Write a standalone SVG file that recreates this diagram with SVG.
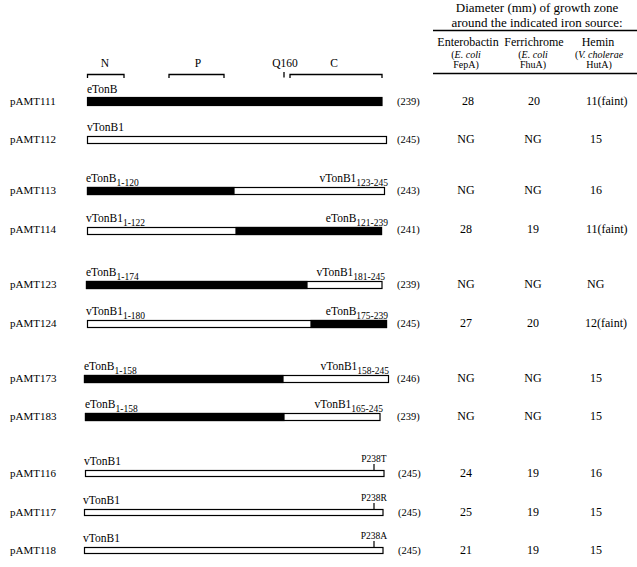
<svg xmlns="http://www.w3.org/2000/svg" width="637" height="567" viewBox="0 0 637 567" font-family="'Liberation Serif', 'DejaVu Serif', serif">
<style>
text{font-family:'Liberation Serif','DejaVu Serif',serif;fill:#000}
.rl{font-size:11px}
.bl{font-size:11.5px}
.sub{font-size:9.5px}
.ln{font-size:10.5px}
.v{font-size:12px}
.c{text-anchor:middle}
.e{text-anchor:end}
.hd{font-size:13px}
.ch{font-size:12px}
.cs{font-size:10px}
.blk{fill:#000;stroke:#000;stroke-width:1.2}
.wht{fill:#fff;stroke:#000;stroke-width:1.2}
.br{fill:none;stroke:#000;stroke-width:1.3}
</style>
<rect width="637" height="567" fill="#fff"/>
<g id="header">
<text class="hd c" x="537" y="12">Diameter (mm) of growth zone</text>
<text class="hd c" x="537" y="26.5">around the indicated iron source:</text>
<line x1="433" y1="30.5" x2="637" y2="30.5" stroke="#000" stroke-width="1.5"/>
<text class="ch c" x="468" y="46">Enterobactin</text>
<text class="ch c" x="534" y="46">Ferrichrome</text>
<text class="ch c" x="598" y="46">Hemin</text>
<text class="cs c" x="466" y="58">(<tspan font-style="italic">E. coli</tspan></text>
<text class="cs c" x="466" y="68">FepA)</text>
<text class="cs c" x="533" y="58">(<tspan font-style="italic">E. coli</tspan></text>
<text class="cs c" x="533" y="68">FhuA)</text>
<text class="cs c" x="599" y="58">(<tspan font-style="italic">V. cholerae</tspan></text>
<text class="cs c" x="599" y="68">HutA)</text>
<line x1="433" y1="73.5" x2="637" y2="73.5" stroke="#000" stroke-width="1.5"/>
</g>
<g id="domains">
<path class="br" d="M87.5,78 V74.5 H124 V78"/>
<path class="br" d="M169,78 V74.5 H224 V78"/>
<path class="br" d="M290,78 V74.5 H382 V78"/>
<line x1="284" y1="72" x2="284" y2="77.5" stroke="#000" stroke-width="1.3"/>
<text class="bl c" x="105" y="67">N</text>
<text class="bl c" x="198" y="67">P</text>
<text class="bl c" x="285" y="67">Q160</text>
<text class="bl c" x="334" y="67">C</text>
</g>
<g id="pAMT111">
<text class="rl" x="10" y="105">pAMT111</text>
<text class="bl" x="87" y="93">eTonB</text>
<rect class="blk" x="87.5" y="97.5" width="294.5" height="8"/>
<text class="ln" x="397" y="105">(239)</text>
<text class="v c" x="468" y="105">28</text>
<text class="v c" x="534" y="105">20</text>
<text class="v" x="586" y="105">11(faint)</text>
</g>
<g id="pAMT112">
<text class="rl" x="10" y="143">pAMT112</text>
<text class="bl" x="87" y="131">vTonB1</text>
<rect class="wht" x="87.5" y="136.5" width="299" height="7"/>
<text class="ln" x="397" y="143">(245)</text>
<text class="v c" x="466" y="143">NG</text>
<text class="v c" x="533" y="143">NG</text>
<text class="v" x="590" y="143">15</text>
</g>
<g id="pAMT113">
<text class="rl" x="10" y="194">pAMT113</text>
<text class="bl" x="86" y="182">eTonB<tspan class="sub" dy="4">1-120</tspan></text>
<text class="bl e" x="388" y="182">vTonB1<tspan class="sub" dy="4">123-245</tspan></text>
<rect class="wht" x="87.5" y="187.5" width="297" height="7"/>
<rect class="blk" x="87.5" y="187.5" width="146.5" height="7"/>
<text class="ln" x="397" y="194">(243)</text>
<text class="v c" x="466" y="194">NG</text>
<text class="v c" x="533" y="194">NG</text>
<text class="v" x="590" y="194">16</text>
</g>
<g id="pAMT114">
<text class="rl" x="10" y="233">pAMT114</text>
<text class="bl" x="86" y="222">vTonB1<tspan class="sub" dy="4">1-122</tspan></text>
<text class="bl e" x="388" y="222">eTonB<tspan class="sub" dy="4">121-239</tspan></text>
<rect class="wht" x="87.5" y="227.5" width="294" height="7"/>
<rect class="blk" x="236" y="227.5" width="145.5" height="7"/>
<text class="ln" x="397" y="233">(241)</text>
<text class="v c" x="466" y="233">28</text>
<text class="v c" x="533" y="233">19</text>
<text class="v" x="586" y="233">11(faint)</text>
</g>
<g id="pAMT123">
<text class="rl" x="10" y="288">pAMT123</text>
<text class="bl" x="86" y="276">eTonB<tspan class="sub" dy="4">1-174</tspan></text>
<text class="bl e" x="385" y="276">vTonB1<tspan class="sub" dy="4">181-245</tspan></text>
<rect class="wht" x="86.5" y="281.5" width="295.5" height="7"/>
<rect class="blk" x="86.5" y="281.5" width="220.5" height="7"/>
<text class="ln" x="397" y="288">(239)</text>
<text class="v c" x="466" y="288">NG</text>
<text class="v c" x="533" y="288">NG</text>
<text class="v" x="587" y="288">NG</text>
</g>
<g id="pAMT124">
<text class="rl" x="10" y="327">pAMT124</text>
<text class="bl" x="86" y="315">vTonB1<tspan class="sub" dy="4">1-180</tspan></text>
<text class="bl e" x="388" y="315">eTonB<tspan class="sub" dy="4">175-239</tspan></text>
<rect class="wht" x="87.5" y="320.5" width="299" height="7"/>
<rect class="blk" x="311" y="320.5" width="75.5" height="7"/>
<text class="ln" x="397" y="327">(245)</text>
<text class="v c" x="466" y="327">27</text>
<text class="v c" x="533" y="327">20</text>
<text class="v" x="585" y="327">12(faint)</text>
</g>
<g id="pAMT173">
<text class="rl" x="10" y="382">pAMT173</text>
<text class="bl" x="84" y="370">eTonB<tspan class="sub" dy="4">1-158</tspan></text>
<text class="bl e" x="389" y="370">vTonB1<tspan class="sub" dy="4">158-245</tspan></text>
<rect class="wht" x="84.5" y="375.5" width="304" height="7"/>
<rect class="blk" x="84.5" y="375.5" width="198.5" height="7"/>
<text class="ln" x="397" y="382">(246)</text>
<text class="v c" x="466" y="382">NG</text>
<text class="v c" x="533" y="382">NG</text>
<text class="v" x="590" y="382">15</text>
</g>
<g id="pAMT183">
<text class="rl" x="10" y="420">pAMT183</text>
<text class="bl" x="85" y="408">eTonB<tspan class="sub" dy="4">1-158</tspan></text>
<text class="bl e" x="383" y="408">vTonB1<tspan class="sub" dy="4">165-245</tspan></text>
<rect class="wht" x="85.5" y="413.5" width="294.5" height="7"/>
<rect class="blk" x="85.5" y="413.5" width="198.5" height="7"/>
<text class="ln" x="397" y="420">(239)</text>
<text class="v c" x="466" y="420">NG</text>
<text class="v c" x="533" y="420">NG</text>
<text class="v" x="590" y="420">15</text>
</g>
<g id="pAMT116">
<text class="rl" x="10" y="477">pAMT116</text>
<text class="bl" x="84" y="465">vTonB1</text>
<text class="sub c" x="374" y="462">P238T</text>
<line x1="374" y1="464" x2="374" y2="470.5" stroke="#000" stroke-width="1.2"/>
<rect class="wht" x="85.5" y="470.5" width="298.5" height="6"/>
<text class="ln" x="398" y="477">(245)</text>
<text class="v c" x="466" y="477">24</text>
<text class="v c" x="533" y="477">19</text>
<text class="v" x="590" y="477">16</text>
</g>
<g id="pAMT117">
<text class="rl" x="10" y="516">pAMT117</text>
<text class="bl" x="83" y="504">vTonB1</text>
<text class="sub c" x="374" y="501">P238R</text>
<line x1="374" y1="503" x2="374" y2="509.5" stroke="#000" stroke-width="1.2"/>
<rect class="wht" x="84.5" y="509.5" width="298.5" height="6"/>
<text class="ln" x="398" y="516">(245)</text>
<text class="v c" x="466" y="516">25</text>
<text class="v c" x="533" y="516">19</text>
<text class="v" x="590" y="516">15</text>
</g>
<g id="pAMT118">
<text class="rl" x="10" y="554">pAMT118</text>
<text class="bl" x="83" y="542">vTonB1</text>
<text class="sub c" x="374" y="539">P238A</text>
<line x1="374" y1="541" x2="374" y2="547.5" stroke="#000" stroke-width="1.2"/>
<rect class="wht" x="84.5" y="547.5" width="298.5" height="6"/>
<text class="ln" x="398" y="554">(245)</text>
<text class="v c" x="466" y="554">21</text>
<text class="v c" x="533" y="554">19</text>
<text class="v" x="590" y="554">15</text>
</g>
<g id="connectors"></g>
</svg>
